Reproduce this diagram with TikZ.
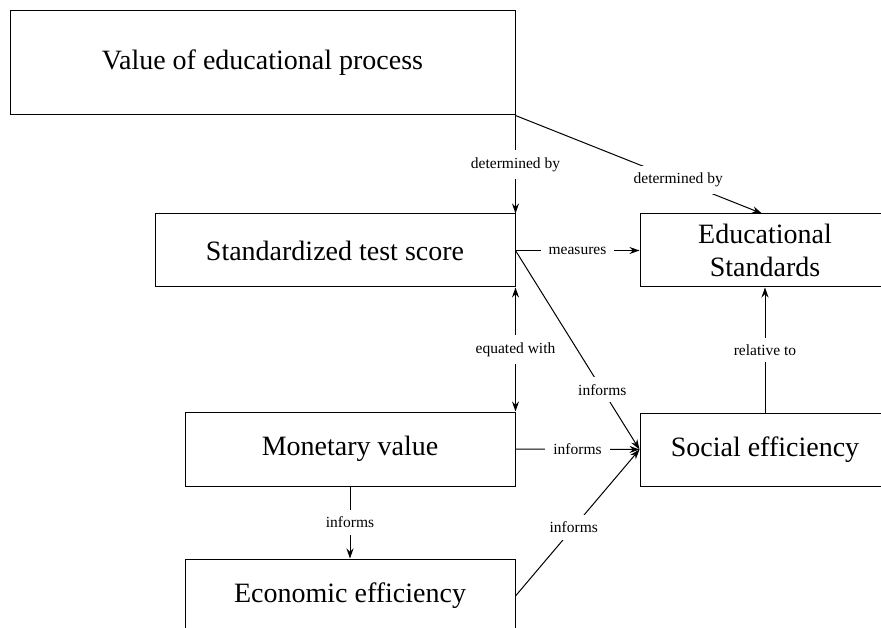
\documentclass[tikz,border=0pt]{standalone}
\usepackage{fontspec}
\setmainfont{Liberation Serif}
\usetikzlibrary{arrows.meta}
\begin{document}
\begin{tikzpicture}[x=1pt,y=-1pt,
  box/.style={draw,line width=1pt,inner sep=0pt,align=center,font=\fontsize{28}{33}\selectfont},
  lbl/.style={fill=white,inner xsep=8pt,inner ysep=7pt,font=\fontsize{15.5}{17}\selectfont},
  tip/.tip={Stealth[length=10pt,width=7pt]},
  conn/.style={line width=1pt,-tip}]
\useasboundingbox (0,0) rectangle (881,628);
\clip (0,0) rectangle (881,628);
\node[box,minimum width=505pt,minimum height=104pt] (val) at (262.5,63) {Value of educational process};
\node[box,minimum width=360pt,minimum height=73pt] (std) at (335,250.5) {Standardized test score};
\node[box,minimum width=250pt,minimum height=73pt] (edu) at (765,250.5) {Educational\\Standards};
\node[box,minimum width=330pt,minimum height=74pt] (mon) at (350,449) {Monetary value};
\node[box,minimum width=250pt,minimum height=73pt] (soc) at (765,449.5) {Social efficiency};
\node[box,minimum width=330pt,minimum height=74pt] (eco) at (350,596) {Economic efficiency};
\draw[conn] (val.south east) -- node[lbl] {determined by} (std.north east);
\draw[conn] (val.south east) -- node[lbl,pos=0.66] {determined by} ([xshift=-3pt]edu.north);
\draw[conn] (std.east) -- node[lbl] {measures} (edu.west);
\draw[conn,tip-tip] (std.south east) -- node[lbl] {equated with} (mon.north east);
\draw[conn] (std.east) -- node[lbl,pos=0.7] {informs} (soc.west);
\draw[conn] (mon.east) -- node[lbl] {informs} (soc.west);
\draw[conn] (eco.east) -- node[lbl,pos=0.47] {informs} (soc.west);
\draw[conn] (mon.south) -- node[lbl] {informs} (eco.north);
\draw[conn] (soc.north) -- node[lbl] {relative to} (edu.south);
\end{tikzpicture}
\end{document}
